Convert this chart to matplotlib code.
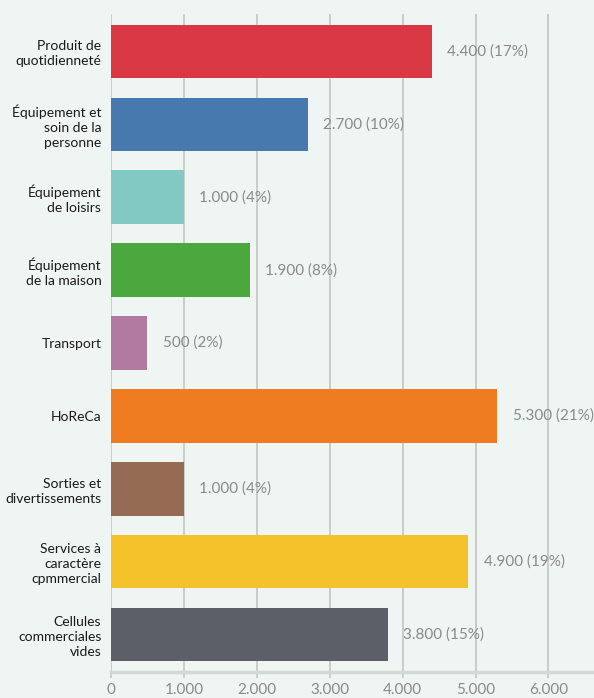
import matplotlib.pyplot as plt
import matplotlib as mpl
import numpy as np

mpl.rcParams["font.family"] = ["Lato", "DejaVu Sans"]

categories = ["Produit de\nquotidienneté",
              "Équipement et\nsoin de la\npersonne",
              "Équipement\nde loisirs",
              "Équipement\nde la maison",
              "Transport",
              "HoReCa",
              "Sorties et\ndivertissements",
              "Services à\ncaractère\ncpmmercial",
              "Cellules\ncommerciales\nvides"]
values = [4400, 2700, 1000, 1900, 500, 5300, 1000, 4900, 3800]
percents = [17, 10, 4, 8, 2, 21, 4, 19, 15]
colors = ["#d93743", "#4879ae", "#83c9c3", "#4aa83e", "#b07aa1",
          "#f07c21", "#956b53", "#f4c22b", "#5d5f68"]
xticks = [0, 1000, 2000, 3000, 4000, 5000, 6000]
xtick_labels = ["0", "1.000", "2.000", "3.000", "4.000", "5.000", "6.000"]

bg = "#eef5f2"
fig = plt.figure(figsize=(5.94, 6.98), dpi=100, facecolor=bg)
ax = fig.add_axes([111 / 594, 26 / 698, 1 - 111 / 594, (672 - 14) / 698])
ax.set_facecolor(bg)

y = np.arange(len(categories))
ax.barh(y, values, height=0.73, color=colors, zorder=3)

def fmt(v):
    return "{:,}".format(v).replace(",", ".")

for yi, v, p in zip(y, values, percents):
    ax.annotate("%s (%d%%)" % (fmt(v), p), (v, yi), xytext=(11, 0),
                textcoords="offset points", va="center", ha="left",
                color="#8a8a8a", fontsize=11, zorder=4)

ax.set_ylim(8.51, -0.51)
ax.set_xlim(0, 6625)
ax.set_yticks(y)
ax.set_yticklabels(categories, fontsize=10, color="#1a1a1a", linespacing=1.3)
ax.set_xticks(xticks)
ax.set_xticklabels(xtick_labels, fontsize=11, color="#8a8a8a")

ax.grid(axis="x", color="#c4c6c5", linewidth=1.2, zorder=0)
ax.tick_params(axis="y", length=0, pad=7)
ax.tick_params(axis="x", length=4, width=1.2, color="#c4c6c5", pad=4)
for s in ["top", "right", "left"]:
    ax.spines[s].set_visible(False)
ax.spines["bottom"].set_color("#d3d7d5")
ax.spines["bottom"].set_linewidth(2.5)

plt.savefig("out.png", dpi=100, facecolor=bg)
